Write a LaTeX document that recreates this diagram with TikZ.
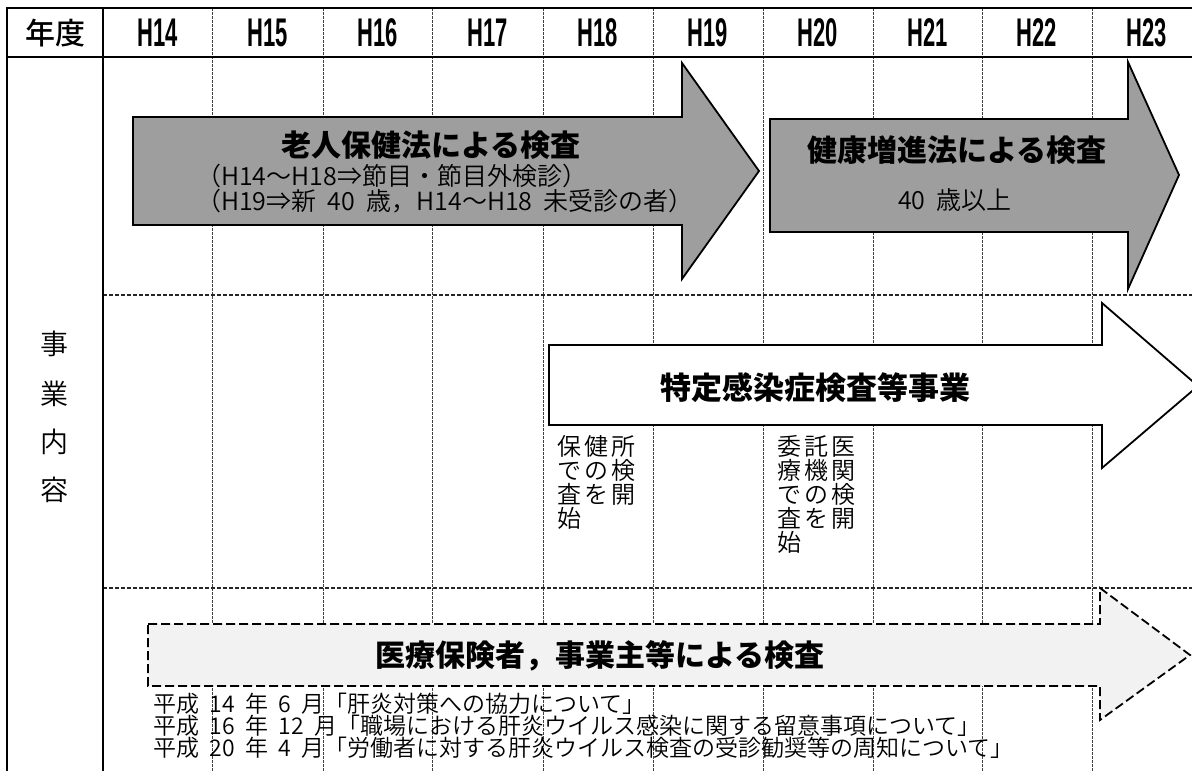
\documentclass[tikz,border=0pt]{standalone}
\usepackage{fontspec}
\setmainfont{Noto Sans CJK JP}
\newfontfamily\heavy{Noto Sans CJK JP Black}
\newfontfamily\light{Noto Sans CJK JP DemiLight}
\newfontfamily\medium{Noto Sans CJK JP Medium}
\newfontfamily\hdrfont[FakeStretch=0.55]{Liberation Sans}
\newcommand{\fsz}[1]{\fontsize{#1}{#1}\selectfont}
\newcommand{\ksp}{\hspace{3pt}}
\newcommand{\hs}{\hspace{0.45em}}
\begin{document}
\begin{tikzpicture}[x=1pt,y=-1pt,
  solidline/.style={line width=1.8pt,black},
  colline/.style={line width=0.9pt,black!75,dash pattern=on 3pt off 1pt},
  rowline/.style={line width=1.1pt,black!85,dash pattern=on 4pt off 2pt},
  grayarrow/.style={draw=black,line width=1.8pt,fill=black!38,line join=miter},
  whitearrow/.style={draw=black,line width=1.8pt,fill=white,line join=miter},
  dasharrow/.style={draw=black,line width=1.8pt,fill=black!5,dash pattern=on 9pt off 4pt,line join=miter},
  hdr/.style={inner sep=0pt,font=\hdrfont\bfseries\fsz{40}},
  hdrjp/.style={inner sep=0pt,font=\medium\fsz{30}},
  title/.style={inner sep=0pt,font=\heavy\fsz{30}},
  sub/.style={inner sep=0pt,font=\light\fsz{25}},
  side/.style={inner sep=0pt,font=\light\fsz{28}},
  block/.style={inner sep=0pt,anchor=north west,align=left,font=\light\fontsize{24}{24}\selectfont},
  note/.style={inner sep=0pt,anchor=west,font=\light\fsz{23}}
]
\useasboundingbox (0,0) rectangle (1192,771);
\fill[white] (0,0) rectangle (1192,771);

% grid
\foreach \x in {212,323,432,543,653,763,873,982,1092}
  \draw[colline] (\x,8) -- (\x,771);
\draw[rowline] (103,295) -- (1192,295);
\draw[rowline] (103,588) -- (1192,588);
\draw[solidline] (6,8) -- (1192,8);
\draw[solidline] (6,57) -- (1192,57);
\draw[solidline] (7,8) -- (7,771);
\draw[solidline] (103,8) -- (103,771);

% header
\node[hdrjp] (nendo) at (55,33) {年度};
\foreach \x/\t [count=\i] in {157.5/H14,267.5/H15,377.5/H16,487.5/H17,598/H18,708/H19,818/H20,927.5/H21,1037/H22,1147/H23}
  \node[hdr] (hd\i) at (\x,33) {\t};

% side label
\node[side] (s1) at (54,344) {事};
\node[side] (s2) at (54,394) {業};
\node[side] (s3) at (54,442) {内};
\node[side] (s4) at (54,490) {容};

% arrow 1
\draw[grayarrow] (133,117) -- (682,117) -- (682,63) -- (759,171) -- (682,279) -- (682,225) -- (133,225) -- cycle;
\node[title] (t1) at (431,145) {老人保健法による検査};
\node[sub,anchor=west] (t1a) at (196,176) {（H14〜H18⇒節目・節目外検診）};
\node[sub,anchor=west] (t1b) at (196,201) {（H19⇒新\hs 40\hs 歳，H14〜H18\hs 未受診の者）};

% arrow 2
\draw[grayarrow] (770,119) -- (1128,119) -- (1128,62) -- (1179,175) -- (1128,289) -- (1128,232) -- (770,232) -- cycle;
\node[title] (t2) at (957,150) {健康増進法による検査};
\node[sub] (t2a) at (955,200) {40\hs 歳以上};

% arrow 3
\draw[whitearrow] (549,345) -- (1102,345) -- (1102,303) -- (1198,386) -- (1102,468) -- (1102,425) -- (549,425) -- cycle;
\node[title,font=\heavy\fsz{31}] (t3) at (815,388) {特定感染症検査等事業};
\node[block] (b1) at (557,435) {保\ksp 健\ksp 所\\で\ksp の\ksp 検\\査\ksp を\ksp 開\\始};
\node[block] (b2) at (777,435) {委\ksp 託\ksp 医\\療\ksp 機\ksp 関\\で\ksp の\ksp 検\\査\ksp を\ksp 開\\始};

% arrow 4
\draw[dasharrow] (148,624) -- (1100,624) -- (1100,588) -- (1190,655) -- (1100,720) -- (1100,686) -- (148,686) -- cycle;
\node[title] (t4) at (600,656) {医療保険者，事業主等による検査};

% notes
\node[note] (n1) at (153,704) {平成\hs 14\hs 年\hs 6\hs 月「肝炎対策への協力について」};
\node[note] (n2) at (153,726) {平成\hs 16\hs 年\hs 12\hs 月「職場における肝炎ウイルス感染に関する留意事項について」};
\node[note] (n3) at (153,748) {平成\hs 20\hs 年\hs 4\hs 月「労働者に対する肝炎ウイルス検査の受診勧奨等の周知について」};
\end{tikzpicture}
\end{document}
